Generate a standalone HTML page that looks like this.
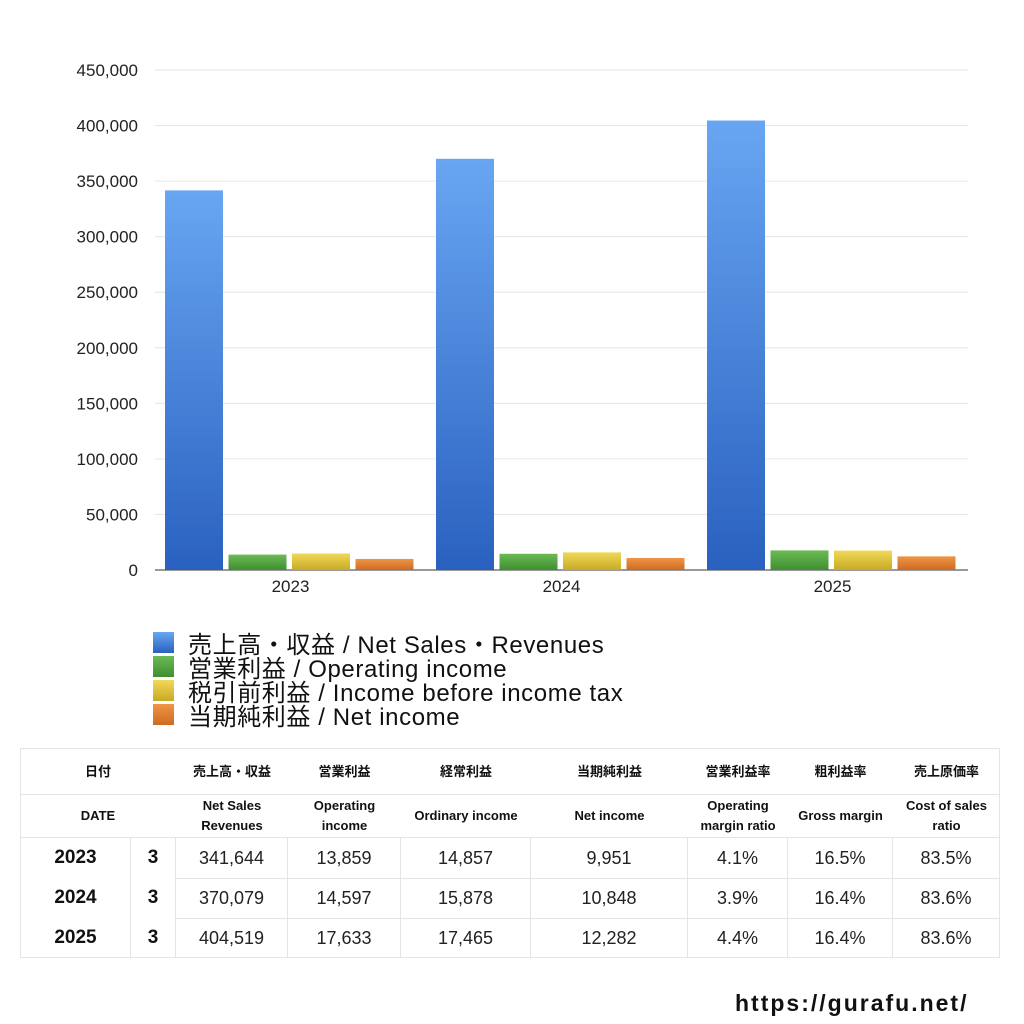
<!DOCTYPE html>
<html><head><meta charset="utf-8"><style>
body{margin:0;width:1024px;height:1024px;background:#fff;font-family:"Liberation Sans","Noto Sans CJK JP",sans-serif;position:relative;overflow:hidden}
.c{position:absolute;display:flex;align-items:center;justify-content:center;text-align:center;box-sizing:border-box;color:#111}
.h{font-size:13px;font-weight:bold;line-height:20px}
.d{font-size:18px;color:#222}
.y{font-size:19px;font-weight:bold}
.lg{position:absolute;left:153px;font-size:24px;letter-spacing:0.6px;color:#111;display:flex;align-items:center;height:24px}
.lg span{width:21px;height:21px;margin-right:14px;display:inline-block}
</style></head><body>
<svg id="chart" width="1024" height="620" style="position:absolute;left:0;top:0">
<defs>
<linearGradient id="gb" x1="0" y1="0" x2="0" y2="1"><stop offset="0" stop-color="#68a6f2"/><stop offset="1" stop-color="#2a61c0"/></linearGradient>
<linearGradient id="gg" x1="0" y1="0" x2="0" y2="1"><stop offset="0" stop-color="#6cba55"/><stop offset="1" stop-color="#3f8e30"/></linearGradient>
<linearGradient id="gy" x1="0" y1="0" x2="0" y2="1"><stop offset="0" stop-color="#f0d957"/><stop offset="1" stop-color="#c9a925"/></linearGradient>
<linearGradient id="go" x1="0" y1="0" x2="0" y2="1"><stop offset="0" stop-color="#ee9647"/><stop offset="1" stop-color="#cf6a22"/></linearGradient>
</defs>
</svg>
<div class="lg" style="top:630px"><span style="background:linear-gradient(#68a6f2,#2a61c0)"></span>売上高・収益 / Net Sales・Revenues</div>
<div class="lg" style="top:654px"><span style="background:linear-gradient(#6cba55,#3f8e30)"></span>営業利益 / Operating income</div>
<div class="lg" style="top:678px"><span style="background:linear-gradient(#f0d957,#c9a925)"></span>税引前利益 / Income before income tax</div>
<div class="lg" style="top:702px"><span style="background:linear-gradient(#ee9647,#cf6a22)"></span>当期純利益 / Net income</div>
<div id="tbl"></div>
<div style="position:absolute;left:735px;top:990px;font-size:23px;letter-spacing:2px;color:#111;font-weight:bold">https://gurafu.net/</div>
<script>
const categories=["2023","2024","2025"];
const netSales=[341644,370079,404519];
const operatingIncome=[13859,14597,17633];
const incomeBeforeTax=[14857,15878,17465];
const netIncome=[9951,10848,12282];
const yTicks=[0,50000,100000,150000,200000,250000,300000,350000,400000,450000];
const svg=document.getElementById('chart');const NS='http://www.w3.org/2000/svg';
const x0=155,x1=968,yTop=70,yBot=570,ymax=450000;
const yS=v=>yBot-(v/ymax)*(yBot-yTop);
const gw=(x1-x0)/categories.length;
function mk(t,a){const e=document.createElementNS(NS,t);for(const k in a)e.setAttribute(k,a[k]);svg.appendChild(e);return e;}
yTicks.forEach(v=>{
 const l=mk('line',{x1:x0,x2:x1,y1:yS(v),y2:yS(v),stroke:v?'#e6e6e6':'#333','stroke-width':1});
 
 
 const t=mk('text',{x:138,y:yS(v)+6,'text-anchor':'end','font-size':17,fill:'#222'});t.textContent=v.toLocaleString('en-US');
 
 
});
const series=[netSales,operatingIncome,incomeBeforeTax,netIncome];const fills=['url(#gb)','url(#gg)','url(#gy)','url(#go)'];
categories.forEach((c,i)=>{
 const gx=x0+i*gw+10;
 series.forEach((s,j)=>{
  const r=mk('rect',{x:gx+j*63.5,y:yS(s[i]),width:58,height:yBot-yS(s[i]),fill:fills[j]});
  
  
 });
 const t=mk('text',{x:x0+i*gw+gw/2,y:592,'text-anchor':'middle','font-size':17,fill:'#222'});t.textContent=c;
 
 
});
const cols=[20,131,176,288,401,531,688,788,893,1000];
const tbl=document.getElementById('tbl');
const hdr1=['日付','','売上高・収益','営業利益','経常利益','当期純利益','営業利益率','粗利益率','売上原価率'];
const hdr2=['DATE','','Net Sales<br>Revenues','Operating<br>income','Ordinary income','Net income','Operating<br>margin ratio','Gross margin','Cost of sales<br>ratio'];
const rows=[["2023","3","341,644","13,859","14,857","9,951","4.1%","16.5%","83.5%"],["2024","3","370,079","14,597","15,878","10,848","3.9%","16.4%","83.6%"],["2025","3","404,519","17,633","17,465","12,282","4.4%","16.4%","83.6%"]];
const rys=[837,878,918,958];
function cell(x,y,w,h,html,cls,bd){const d=document.createElement('div');d.className='c '+cls;d.style.cssText=`left:${x}px;top:${y}px;width:${w}px;height:${h}px;${bd}`;d.innerHTML=html;
 
 
 tbl.appendChild(d);}
cell(20,748,980,47,'','', 'border:1px solid #e4e4e4');
cell(20,795,980,42,'','', 'border-left:1px solid #e4e4e4;border-right:1px solid #e4e4e4');
for(let k=0;k<9;k++){
 let x=cols[k],w=cols[k+1]-cols[k];
 if(k==0){w=cols[2]-cols[0];}
 if(k==1)continue;
 cell(x,748,w,47,hdr1[k],'h','');
 cell(x,795,w,42,hdr2[k],'h','');
}
rows.forEach((r,i)=>{for(let k=0;k<9;k++){
 const bt=(k>=2&&i>0)?'border-top:1px solid #e4e4e4;':'';
 const st=(k==0?'border-left:1px solid #e4e4e4;':'')+'border-right:1px solid #e4e4e4;'+(i==0?'border-top:1px solid #e4e4e4;':bt)+(i==2?'border-bottom:1px solid #e4e4e4;':'');
 cell(cols[k],rys[i],cols[k+1]-cols[k],rys[i+1]-rys[i],r[k],k<2?'y':'d',st);
}});
</script>
</body></html>
